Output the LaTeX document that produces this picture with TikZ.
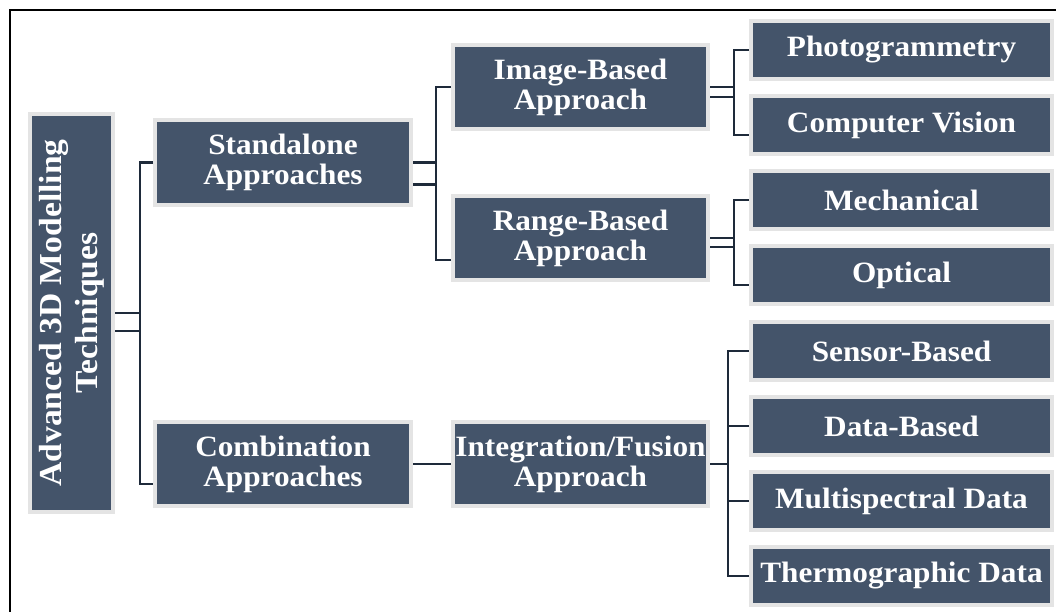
\documentclass[tikz,border=0pt]{standalone}
\usepackage{fontspec}
\setmainfont{Liberation Serif}[FakeStretch=1.06]
\newfontfamily\rootfont{Liberation Serif}[FakeStretch=1.05]
\usepackage{tikz}
\usetikzlibrary{positioning}
\definecolor{boxslate}{RGB}{68,84,106}
\definecolor{boxrim}{RGB}{228,228,228}
\definecolor{linknavy}{RGB}{30,42,58}

\tikzset{
  box/.style={draw=boxrim, line width=4pt, fill=boxslate, text=white,
    font=\bfseries\fontsize{29.5}{30}\selectfont, align=center, inner sep=0pt,
    minimum width=256pt, minimum height=85pt},
  midbox/.style={box, minimum width=255pt, minimum height=84pt},
  leafbox/.style={box, minimum width=301pt, minimum height=58pt},
  link/.style={draw=linknavy, line width=2.5pt}
}

\begin{document}
\begin{tikzpicture}[x=1pt,y=-1pt]
\useasboundingbox (0,0) rectangle (1056,612);
% Frame (cut at right and bottom)
\draw[line width=2.5pt] (1056,10) -- (10,10) -- (10,612);
% Root
\node[box, rotate=90, minimum width=398pt, minimum height=83pt,
  font=\rootfont\bfseries\fontsize{32}{36}\selectfont] (root) at (71.5,313)
  {Advanced 3D Modelling\\Techniques};
% Second level
\node[box] (standalone) at (283,162.5) {Standalone\\Approaches};
\node[box, minimum height=84pt] (combination) at (283,464) {Combination\\Approaches};
% Third level
\node[midbox] (imagebased) at (580.5,87) {Image-Based\\Approach};
\node[midbox] (rangebased) at (580.5,238) {Range-Based\\Approach};
\node[midbox] (fusion) at (580.5,464) {Integration/Fusion\\Approach};
% Leaves
\node[leafbox] (photo) at (901.5,50) {Photogrammetry};
\node[leafbox] (vision) at (901.5,125) {Computer Vision};
\node[leafbox] (mech) at (901.5,200) {Mechanical};
\node[leafbox] (optical) at (901.5,275) {Optical};
\node[leafbox] (sensor) at (901.5,351) {Sensor-Based};
\node[leafbox] (databased) at (901.5,426) {Data-Based};
\node[leafbox] (multi) at (901.5,501) {Multispectral Data};
\node[leafbox] (thermo) at (901.5,576) {Thermographic Data};
% Connectors
\draw[link] (standalone.west) -| ([xshift=25pt,yshift=-18pt]root.south) -- ([yshift=-18pt]root.south);
\draw[link] (root.south) -- ++(25,0) |- ([yshift=-20pt]combination.west);
\draw[link] (imagebased.west) -| ([xshift=23pt,yshift=-22pt]standalone.east) -- ([yshift=-22pt]standalone.east);
\draw[link] (standalone.east) -- ++(23,0) |- ([yshift=-22pt]rangebased.west);
\draw[link] (photo.west) -| ([xshift=24pt,yshift=-10pt]imagebased.east) -- ([yshift=-10pt]imagebased.east);
\draw[link] (imagebased.east) -- ++(24,0) |- ([yshift=-10pt]vision.west);
\draw[link] (mech.west) -| ([xshift=24pt,yshift=-9pt]rangebased.east) -- ([yshift=-9pt]rangebased.east);
\draw[link] (rangebased.east) -- ++(24,0) |- ([yshift=-10pt]optical.west);
\draw[link] (combination) -- (fusion);
\foreach \leaf in {sensor,databased,multi,thermo}
  \draw[link] (fusion.east) -- ++(18,0) |- (\leaf.west);
\end{tikzpicture}
\end{document}
